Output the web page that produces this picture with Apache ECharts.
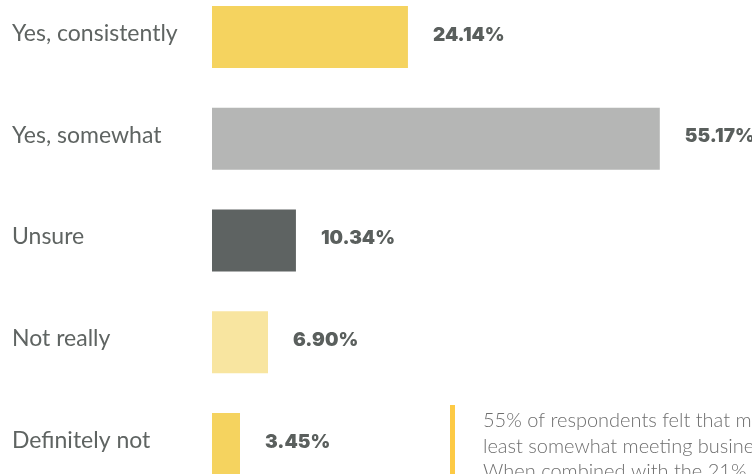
<!DOCTYPE html>
<html>
<head>
<meta charset="utf-8">
<script src="https://cdn.jsdelivr.net/npm/echarts@6/dist/echarts.min.js"></script>
<style>
  html, body { margin: 0; padding: 0; background: #ffffff; }
  #chart { width: 752px; height: 474px; }
</style>
</head>
<body>
<div id="chart"></div>
<script>
// Survey answers, top to bottom
const categories = ['Yes, consistently', 'Yes, somewhat', 'Unsure', 'Not really', 'Definitely not'];
const shares = [24.14, 55.17, 10.34, 6.90, 3.45];
const barColors = ['#f5d35f', '#b5b6b5', '#5e6362', '#f8e5a0', '#f5d35f'];
const noteLines = [
  '55% of respondents felt that meetings were at',
  'least somewhat meeting business goals.',
  'When combined with the 21% who said yes, consistently'
];

const chart = echarts.init(document.getElementById('chart'), null, { renderer: 'canvas' });

const option = {
  backgroundColor: '#ffffff',
  animation: false,
  grid: { left: 212, top: -14, width: 487, height: 509, containLabel: false, outerBoundsMode: 'none' },
  xAxis: {
    type: 'value', min: 0, max: 60,
    show: false
  },
  yAxis: {
    type: 'category',
    data: categories,
    inverse: true,
    axisLine: { show: false },
    axisTick: { show: false },
    splitLine: { show: false },
    axisLabel: {
      align: 'left',
      margin: 200,
      formatter: '{cat|{value}}',
      rich: {
        cat: {
          color: '#5f6462',
          fontFamily: 'Lato',
          fontSize: 23,
          padding: [0, 0, 7, 0]
        }
      }
    }
  },
  series: [{
    type: 'bar',
    barWidth: 62,
    data: shares.map((v, i) => ({ value: v, itemStyle: { color: barColors[i] } })),
    label: {
      show: true,
      position: 'right',
      distance: 25,
      offset: [0, -2],
      formatter: p => p.value.toFixed(2) + '%',
      color: '#5a5f5d',
      fontFamily: 'Inter',
      fontWeight: 900,
      fontSize: 19
    }
  }],
  graphic: [
    {
      type: 'rect',
      shape: { x: 450, y: 405, width: 5, height: 80 },
      style: { fill: '#fdca45' }
    },
    {
      type: 'text',
      x: 483, y: 408,
      style: {
        text: noteLines.join('\n'),
        fill: '#6e6e6e',
        font: '300 20px Lato',
        lineHeight: 25.5
      }
    }
  ]
};

chart.setOption(option);
</script>
</body>
</html>
